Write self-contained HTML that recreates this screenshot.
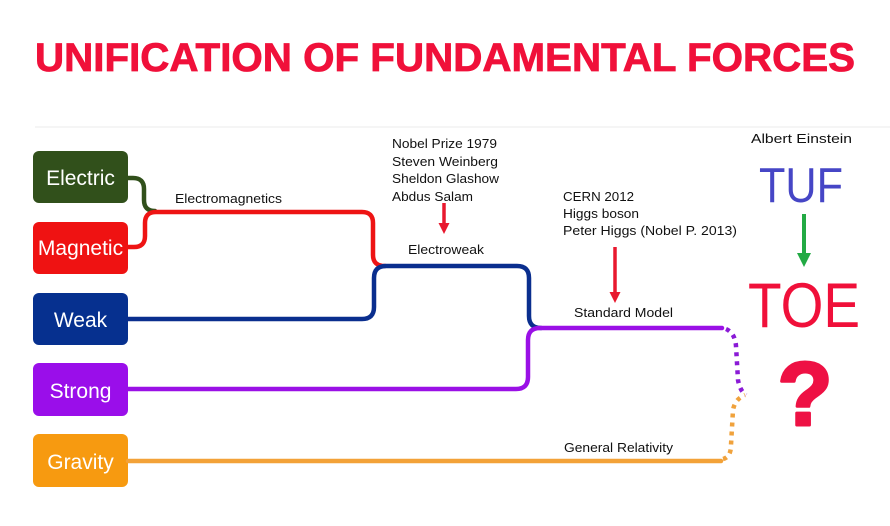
<!DOCTYPE html>
<html><head><meta charset="utf-8"><style>
html,body{margin:0;padding:0;background:#fff;}
svg{display:block;}
</style></head><body>
<svg width="890" height="526" viewBox="0 0 890 526" xmlns="http://www.w3.org/2000/svg">
<rect width="890" height="526" fill="#fff"/>
<line x1="35" y1="127" x2="890" y2="127" stroke="#f2f2f2" stroke-width="1.5"/>
<text x="35" y="71" font-family="Liberation Sans, sans-serif" font-weight="bold" font-size="40" fill="#f0103a" stroke="#f0103a" stroke-width="0.8" textLength="820" lengthAdjust="spacingAndGlyphs">UNIFICATION OF FUNDAMENTAL FORCES</text>

<!-- boxes -->
<rect x="33" y="151" width="95" height="52" rx="6" fill="#31501b"/>
<rect x="33" y="222" width="95" height="52" rx="6" fill="#ef1212"/>
<rect x="33" y="293" width="95" height="52" rx="6" fill="#06308f"/>
<rect x="33" y="363" width="95" height="53" rx="6" fill="#9a0eea"/>
<rect x="33" y="434" width="95" height="53" rx="6" fill="#f79a10"/>
<g font-family="Liberation Sans, sans-serif" font-size="21" fill="#fff" text-anchor="middle">
<text x="80.5" y="185">Electric</text>
<text x="80.5" y="255">Magnetic</text>
<text x="80.5" y="327">Weak</text>
<text x="80.5" y="398">Strong</text>
<text x="80.5" y="469">Gravity</text>
</g>

<!-- lines -->
<g fill="none" stroke-width="4.5" stroke-linecap="round">
<path d="M128,178 H133 Q144,178 144,189 V200 Q144,211 155,211" stroke="#31501b"/>
<path d="M128,247 H134 Q145,247 145,236 V223 Q145,212 156,212 H362 Q373,212 373,223 V255 Q373,266 385,266" stroke="#ee1414"/>
<path d="M128,319 H362 Q374,319 374,307 V278 Q374,266 386,266 H517 Q529,266 529,278 V316 Q529,328 541,328" stroke="#0a2e8e"/>
<path d="M128,389 H516 Q528,389 528,377 V340 Q528,328 540,328 H722" stroke="#9a10e6"/>
<path d="M128,461 H721" stroke="#f3a238"/>
</g>
<g fill="none" stroke-width="4.5" stroke-dasharray="4 5">
<path d="M726,329 Q735,333 736,346 L738,380 Q740,391 746,395" stroke="#8a1ad6"/>
<path d="M723,459 Q731,457 731,445 L733,410 Q735,399 745,395" stroke="#f0a23c"/>
</g>

<!-- annotation text -->
<g font-family="Liberation Sans, sans-serif" font-size="13" fill="#111">
<text x="175" y="203" textLength="107" lengthAdjust="spacingAndGlyphs">Electromagnetics</text>
<text x="392" y="148" textLength="105" lengthAdjust="spacingAndGlyphs">Nobel Prize 1979</text>
<text x="392" y="166" textLength="106" lengthAdjust="spacingAndGlyphs">Steven Weinberg</text>
<text x="392" y="183" textLength="107" lengthAdjust="spacingAndGlyphs">Sheldon Glashow</text>
<text x="392" y="201" textLength="81" lengthAdjust="spacingAndGlyphs">Abdus Salam</text>
<text x="408" y="254" textLength="76" lengthAdjust="spacingAndGlyphs">Electroweak</text>
<text x="563" y="201" textLength="71" lengthAdjust="spacingAndGlyphs">CERN 2012</text>
<text x="563" y="218" textLength="76" lengthAdjust="spacingAndGlyphs">Higgs boson</text>
<text x="563" y="235" textLength="174" lengthAdjust="spacingAndGlyphs">Peter Higgs (Nobel P. 2013)</text>
<text x="574" y="317" textLength="99" lengthAdjust="spacingAndGlyphs">Standard Model</text>
<text x="564" y="452" textLength="109" lengthAdjust="spacingAndGlyphs">General Relativity</text>
<text x="751" y="143" textLength="101" lengthAdjust="spacingAndGlyphs">Albert Einstein</text>
</g>

<!-- arrows -->
<line x1="444" y1="203" x2="444" y2="226" stroke="#e8182e" stroke-width="3.5"/>
<polygon points="438.5,223 449.5,223 444,234" fill="#e8182e"/>
<line x1="615" y1="247" x2="615" y2="295" stroke="#e8182e" stroke-width="3.5"/>
<polygon points="609.5,292 620.5,292 615,303" fill="#e8182e"/>
<line x1="804" y1="214" x2="804" y2="256" stroke="#22aa44" stroke-width="4"/>
<polygon points="797,253 811,253 804,267" fill="#22aa44"/>

<!-- TUF / TOE / ? -->
<text x="759" y="202" font-family="Liberation Sans, sans-serif" font-size="49" fill="#4646c6" textLength="84" lengthAdjust="spacingAndGlyphs">TUF</text>
<text x="748" y="327" font-family="Liberation Sans, sans-serif" font-size="63" fill="#f0103a" textLength="112" lengthAdjust="spacingAndGlyphs">TOE</text>
<text x="805" y="425" text-anchor="middle" font-family="Liberation Sans, sans-serif" font-weight="bold" font-size="90" fill="#ee1144" stroke="#ee1144" stroke-width="3" stroke-linejoin="round">?</text>
</svg>
</body></html>
